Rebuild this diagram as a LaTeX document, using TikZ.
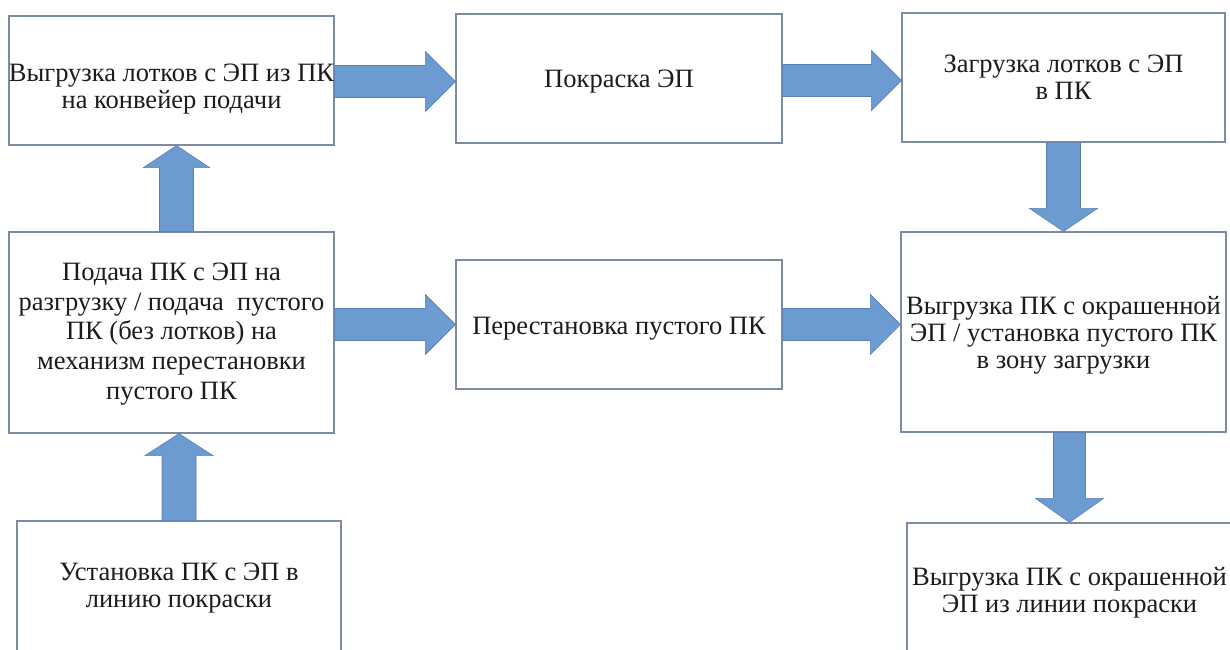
\documentclass[tikz,border=0pt]{standalone}
\usepackage{fontspec}
\setmainfont{Liberation Serif}
\usetikzlibrary{calc}
\definecolor{boxline}{RGB}{125,140,165}
\definecolor{arrfill}{RGB}{108,155,210}
\definecolor{arrline}{RGB}{88,128,182}
\definecolor{txt}{RGB}{28,28,28}
\newcommand{\blockarr}[5]{%
  \coordinate (hb) at ($(#2)!#5!(#1)$);
  \filldraw[arrowshape] ($(#1)!#3!90:(#2)$) -- ($(hb)!#3!90:(#2)$) -- ($(hb)!#4!90:(#2)$) -- (#2)
    -- ($(hb)!#4!-90:(#2)$) -- ($(hb)!#3!-90:(#2)$) -- ($(#1)!#3!-90:(#2)$) -- cycle;}
\begin{document}
\begin{tikzpicture}[x=1pt,y=-1pt,
  box/.style={draw=boxline, line width=1.2pt, fill=white, inner sep=0pt},
  lbl/.style={align=center, text=txt, inner sep=0pt, font=\fontsize{26.5}{27}\selectfont},
  arrowshape/.style={fill=arrfill, draw=arrline, line width=0.6pt, line join=miter}]
\useasboundingbox (0,0) rectangle (1230,649);
\clip (0,0) rectangle (1230,649);
% boxes
\node[box, minimum width=325pt, minimum height=129pt] (b1) at (171.5,80.5) {};
\node[box, minimum width=326pt, minimum height=129pt] (b2) at (619,78.5) {};
\node[box, minimum width=323pt, minimum height=129pt] (b3) at (1063.5,77.5) {};
\node[box, minimum width=325pt, minimum height=201pt] (b4) at (171.5,332.5) {};
\node[box, minimum width=326pt, minimum height=129pt] (b5) at (619,324.5) {};
\node[box, minimum width=325pt, minimum height=200pt] (b6) at (1063.5,332) {};
\node[box, minimum width=324pt, minimum height=134pt] (b7) at (179,588) {};
\node[box, minimum width=325pt, minimum height=136pt] (b8) at (1069.5,591) {};
% texts
\node[lbl] (t1) at ($(b1.center)+(0,9)$) {Выгрузка лотков с ЭП из ПК\\на конвейер подачи};
\node[lbl] (t2) at ($(b2.center)+(0,3.5)$) {Покраска ЭП};
\node[lbl] (t3) at (b3.center) {Загрузка лотков с ЭП\\в ПК};
\node[lbl, font=\fontsize{26.5}{29.6}\selectfont] (t4) at ($(b4.center)+(0,1.5)$) {Подача ПК с ЭП на\\разгрузку / подача~ пустого\\ПК (без лотков) на\\механизм перестановки\\пустого ПК};
\node[lbl] (t5) at ($(b5.center)+(0,4.5)$) {Перестановка пустого ПК};
\node[lbl] (t6) at ($(b6.center)+(0,3)$) {Выгрузка ПК с окрашенной\\ЭП / установка пустого ПК\\в зону загрузки};
\node[lbl] (t7) at (b7.center) {Установка ПК с ЭП в\\линию покраски};
\node[lbl] (t8) at ($(b8.center)+(0,2)$) {Выгрузка ПК с окрашенной\\ЭП из линии покраски};
% connectors
\coordinate (a1s) at ($(b1.east)+(0,1)$);
\coordinate (a1e) at (a1s -| b2.west);
\blockarr{a1s}{a1e}{16pt}{30pt}{30pt}
\coordinate (a2s) at ($(b2.east)+(0,2)$);
\coordinate (a2e) at (a2s -| b3.west);
\blockarr{a2s}{a2e}{16pt}{30pt}{30pt}
\coordinate (a3s) at ($(b4.north)+(5,0)$);
\coordinate (a3e) at (a3s |- b1.south);
\blockarr{a3s}{a3e}{17pt}{33pt}{22pt}
\coordinate (a4s) at (b7.north);
\coordinate (a4e) at (b7.north |- b4.south);
\blockarr{a4s}{a4e}{17pt}{34pt}{22pt}
\coordinate (a5s) at (b4.east |- b5.west);
\coordinate (a5e) at (b5.west);
\blockarr{a5s}{a5e}{16pt}{30pt}{30pt}
\coordinate (a6s) at (b5.east);
\coordinate (a6e) at (b5.east -| b6.west);
\blockarr{a6s}{a6e}{16pt}{30pt}{30pt}
\coordinate (a7s) at (b3.south);
\coordinate (a7e) at (b3.south |- b6.north);
\blockarr{a7s}{a7e}{17pt}{34pt}{23pt}
\coordinate (a8s) at (b8.north |- b6.south);
\coordinate (a8e) at (b8.north);
\blockarr{a8s}{a8e}{16pt}{34pt}{24pt}
\end{tikzpicture}
\end{document}
